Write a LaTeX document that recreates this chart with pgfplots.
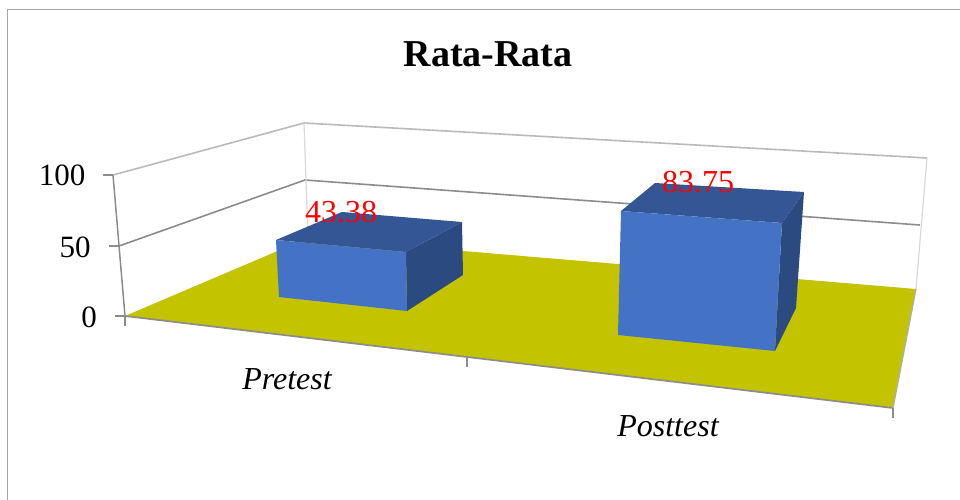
\documentclass[border=0pt]{standalone}
\usepackage{pgfplots}
\pgfplotsset{compat=1.18}
\usepackage{fontspec}
\setmainfont{Liberation Serif}
\definecolor{floorc}{HTML}{C3C300}
\definecolor{frontc}{HTML}{4472C4}
\definecolor{topc}{HTML}{345694}
\definecolor{sidec}{HTML}{2A4A80}
\definecolor{gridc}{HTML}{8C8C8C}
\definecolor{framec}{HTML}{A6A6A6}
\definecolor{wallc}{HTML}{D9D9D9}
\newcommand{\px}[1]{\fontsize{#1bp}{#1bp}\selectfont}
\pgfplotstableread{
x y label
488 54 Rata-Rata
}\titletab
\pgfplotstableread{
x y label
62 175 100
75 247 50
89 317 0
}\ytab
\pgfplotstableread{
x y label
287 379 Pretest
668 426 Posttest
}\xtab
\pgfplotstableread{
x y label
341 212 43.38
698 182 83.75
}\valtab
\begin{document}
\begin{tikzpicture}
\begin{axis}[
  name=main,
  at={(0,0)}, anchor=south west,
  scale only axis, width=960bp, height=500bp,
  xmin=0, xmax=960, ymin=0, ymax=500, y dir=reverse,
  axis lines=none, enlargelimits=false,
  every axis plot/.append style={no markers, forget plot},
  lbl/.style={draw=none, nodes near coords, point meta=explicit symbolic,
    nodes near coords align=center},
]
% white page, which also holds the picture's full extent
\addplot[fill=white, draw=none] coordinates {(0,0) (960,0) (960,500) (0,500)} -- cycle;
% outer frame
\addplot[framec, line width=1.6bp] coordinates {(960,9.5) (7.5,9.5) (7.5,500)};
% back walls: 100 and 50 levels
\addplot[gridc!60, line width=1.6bp] coordinates {(113,175) (304,123) (927,158)};
\addplot[gridc, line width=1.6bp] coordinates {(119,246) (305,180) (920,225)};
\addplot[wallc, line width=1.2bp] coordinates {(304,123) (308,238)};
\addplot[wallc, line width=1.2bp] coordinates {(927,158) (916,289)};
% floor
\addplot[fill=floorc, draw=none] coordinates {(125,316) (308,238) (916,289) (893,408)} -- cycle;
\addplot[gridc, line width=1.7bp] coordinates {(125,316) (893,408)};
\addplot[gridc!70, line width=1.3bp] coordinates {(916,289) (893,408)};
% value axis and ticks
\addplot[gridc, line width=1.5bp] coordinates {(113,175) (125,316)};
\addplot[gridc, line width=1.2bp] coordinates {(103,175) (113,175)};
\addplot[gridc, line width=1.2bp] coordinates {(109,246) (119,246)};
\addplot[gridc, line width=1.2bp] coordinates {(115,316) (125,316)};
\addplot[gridc, line width=1.2bp] coordinates {(125,316) (125,326)};
\addplot[gridc, line width=1.2bp] coordinates {(467,358) (467,367)};
\addplot[gridc, line width=1.2bp] coordinates {(893,408) (893,418)};
% bar Pretest
\addplot[fill=sidec, draw=none] coordinates {(406,252) (462,222) (463,275) (407,311)} -- cycle;
\addplot[fill=topc, draw=none] coordinates {(276,240) (342,212) (462,222) (406,252)} -- cycle;
\addplot[fill=frontc, draw=none] coordinates {(276,240) (406,252) (407,311) (279,297)} -- cycle;
% bar Posttest
\addplot[fill=sidec, draw=none] coordinates {(782,223) (804,192) (796,308) (775,351)} -- cycle;
\addplot[fill=topc, draw=none] coordinates {(621,211) (655,183) (804,192) (782,223)} -- cycle;
\addplot[fill=frontc, draw=none] coordinates {(621,211) (782,223) (775,351) (618,335)} -- cycle;
% texts
\addplot[lbl, nodes near coords style={anchor=center, inner sep=0pt, text=black, font=\px{38}\bfseries}] table[x=x, y=y, meta=label] {\titletab};
\addplot[lbl, nodes near coords style={anchor=center, inner sep=0pt, text=black, font=\px{31}}] table[x=x, y=y, meta=label] {\ytab};
\addplot[lbl, nodes near coords style={anchor=center, inner sep=0pt, text=black, font=\px{32}\itshape}] table[x=x, y=y, meta=label] {\xtab};
\addplot[lbl, nodes near coords style={anchor=center, inner sep=0pt, text=red, font=\px{32}}] table[x=x, y=y, meta=label] {\valtab};
\end{axis}
\useasboundingbox (0,0) rectangle (960bp,500bp);
\end{tikzpicture}
\end{document}
